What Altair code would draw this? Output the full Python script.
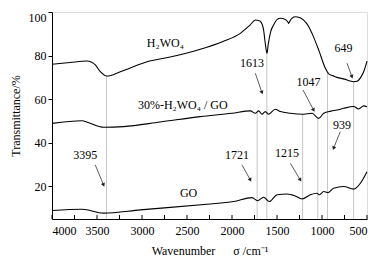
import math
import altair as alt
import pandas as pd

FONT = "Liberation Serif"

# H2WO4 spectrum (wavenumber, transmittance)
h_wn = [4000, 3800, 3611, 3519, 3463, 3389, 3241, 2944, 2700, 2352, 2100, 1907, 1800, 1740,
        1700, 1680, 1650, 1625, 1611, 1598, 1570, 1538, 1500, 1463, 1420, 1380, 1370, 1355,
        1297, 1250, 1204, 1150, 1111, 1037, 963, 940, 926, 880, 833, 750, 685, 649, 611,
        570, 537, 500]
h_t = [76.0, 76.8, 77.5, 75.7, 72.6, 70.6, 72.6, 77.2, 79.2, 82.9, 86.5, 90.2, 94.0, 96.3,
       96.0, 95.5, 92.0, 84.0, 81.0, 85.0, 91.0, 94.0, 96.5, 97.1, 96.8, 95.5, 94.8, 96.0,
       97.8, 97.5, 96.3, 93.5, 90.2, 82.6, 74.2, 72.5, 71.6, 70.8, 70.0, 69.2, 68.3, 68.0, 68.2,
       70.0, 72.6, 77.5]

# 30%-H2WO4/GO spectrum
c_wn = [4000, 3667, 3600, 3427, 3204, 2800, 2352, 2000, 1796, 1741, 1704, 1667, 1630, 1593,
        1519, 1463, 1352, 1204, 1111, 1037, 981, 900, 833, 759, 648, 593, 537, 500]
c_t = [48.9, 50.1, 49.3, 47.1, 47.4, 49.5, 52.0, 53.5, 54.6, 53.5, 54.6, 53.1, 54.3, 53.1,
       55.4, 54.3, 53.5, 53.1, 53.5, 51.2, 53.5, 54.5, 55.0, 55.8, 56.6, 55.5, 56.9, 56.5]

# GO spectrum
g_wn = [4000, 3667, 3427, 3019, 2278, 1982, 1778, 1716, 1649, 1586, 1500, 1389, 1297, 1222,
        1130, 1056, 1027, 981, 933, 871, 759, 648, 574, 500]
g_t = [8.9, 9.5, 7.7, 9.2, 11.8, 13.0, 14.8, 13.4, 15.0, 13.0, 16.1, 16.5, 15.6, 14.2,
       16.1, 16.8, 16.1, 17.6, 17.1, 19.1, 19.9, 18.7, 21.4, 26.7]

# marker lines (wavenumber, top of line)
mark_wn = [3395, 1721, 1613, 1215, 1047, 939, 649]
mark_top = [70.6, 53.8, 81.0, 53.1, 51.5, 72.3, 68.0]

# peak labels
lab_txt = ["3395", "1721", "1613", "1215", "1047", "939", "649"]
lab_wn = [3630, 1944, 1778, 1389, 1149, 778, 760]
lab_t = [34.4, 34.4, 76.5, 35.2, 68.0, 48.2, 83.3]
arr_wn0 = [3519, 1889, 1741, 1352, 1211, 797, 722]
arr_t0 = [29.8, 29.8, 71.9, 30.6, 64.2, 45.1, 76.5]
arr_wn1 = [3427, 1796, 1667, 1241, 1093, 871, 667]
arr_t1 = [20.6, 22.9, 63.0, 22.9, 55.0, 37.5, 70.3]

# curve names
name_txt = ["H₂WO₄", "30%-H₂WO₄ / GO", "GO"]
name_wn = [2741, 2547, 2482]
name_t = [85.6, 57.3, 16.8]

x_ticks = [4000, 3750, 3500, 3250, 3000, 2750, 2500, 2250, 2000, 1750, 1500, 1250, 1000, 750, 500]

W, H = 315, 207
XD = [4000, 500]
YD = [5, 100]

xs = alt.Scale(domain=XD, nice=False, zero=False)
ys = alt.Scale(domain=YD, nice=False, zero=False)

x_title = "Wavenumber\u00a0\u00a0\u00a0\u00a0\u00a0\u00a0σ /cm⁻¹"

xax = alt.Axis(values=x_ticks, labelExpr="datum.value % 500 == 0 ? datum.label : ''",
               tickSize=0, grid=False, labelFont=FONT, labelFontSize=12, labelColor="black",
               domainColor="black", title=x_title, titleFont=FONT,
               titleFontSize=12, titleFontWeight="normal", titleColor="black", labelPadding=6,
               titlePadding=9, format="d")
yax = alt.Axis(values=[20, 40, 60, 80, 100], tickSize=4, tickColor="black", grid=False,
               labelFont=FONT, labelFontSize=12, labelColor="black", domainColor="black",
               labelFlush=True,
               title="Transmittance/%", titleFont=FONT, titleFontSize=12,
               titleFontWeight="normal", titleColor="black", labelPadding=2, titlePadding=6)

rows = []
for n, wn, t in [("H2WO4", h_wn, h_t), ("30", c_wn, c_t), ("GO", g_wn, g_t)]:
    for a, b in zip(wn, t):
        rows.append({"s": n, "wn": a, "t": b})
df = pd.DataFrame(rows)

base_lines = alt.Chart(df).mark_line(color="black", strokeWidth=1.1, interpolate="monotone").encode(
    x=alt.X("wn:Q", scale=xs, axis=xax),
    y=alt.Y("t:Q", scale=ys, axis=yax),
    detail="s:N",
)

vdf = pd.DataFrame({"wn": mark_wn, "top": mark_top, "bot": [YD[0]] * len(mark_wn)})
vlines = alt.Chart(vdf).mark_rule(color="#b8b8b8", strokeWidth=0.8).encode(
    x=alt.X("wn:Q", scale=xs), y=alt.Y("top:Q", scale=ys), y2="bot:Q")

tdf = pd.DataFrame({"wn": x_ticks})
ticks = alt.Chart(tdf).mark_rule(color="black", strokeWidth=1).encode(
    x=alt.X("wn:Q", scale=xs), y=alt.value(H), y2=alt.value(H - 4))

ldf = pd.DataFrame({"txt": lab_txt, "wn": lab_wn, "t": lab_t})
labels = alt.Chart(ldf).mark_text(font=FONT, fontSize=12, color="black").encode(
    x=alt.X("wn:Q", scale=xs), y=alt.Y("t:Q", scale=ys), text="txt:N")

ndf = pd.DataFrame({"txt": name_txt, "wn": name_wn, "t": name_t})
names = alt.Chart(ndf).mark_text(font=FONT, fontSize=12, color="black").encode(
    x=alt.X("wn:Q", scale=xs), y=alt.Y("t:Q", scale=ys), text="txt:N")

px_per_wn = W / (XD[0] - XD[1])
px_per_t = H / (YD[1] - YD[0])
angs = []
for a0, b0, a1, b1 in zip(arr_wn0, arr_t0, arr_wn1, arr_t1):
    dx = -(a1 - a0) * px_per_wn
    dy = -(b1 - b0) * px_per_t
    angs.append(math.degrees(math.atan2(dx, -dy)) % 360)
adf = pd.DataFrame({"wn0": arr_wn0, "t0": arr_t0, "wn1": arr_wn1, "t1": arr_t1, "ang": angs})
ashaft = alt.Chart(adf).mark_rule(color="#333", strokeWidth=0.8).encode(
    x=alt.X("wn0:Q", scale=xs), y=alt.Y("t0:Q", scale=ys), x2="wn1:Q", y2="t1:Q")
aheads = alt.Chart(adf).mark_point(shape="triangle-up", filled=True, color="#222", size=18,
                                   opacity=1).encode(
    x=alt.X("wn1:Q", scale=xs), y=alt.Y("t1:Q", scale=ys), angle=alt.Angle("ang:Q", scale=None))

chart = alt.layer(vlines, base_lines, ticks, ashaft, aheads, labels, names).properties(
    width=W, height=H,
    autosize=alt.AutoSizeParams(type="none"),
    padding={"left": 44, "top": 4, "right": 10, "bottom": 41},
).configure_view(stroke="#999", strokeWidth=1).configure(background="white")

chart.save("out.html", embed_options={"renderer": "svg", "actions": False})
